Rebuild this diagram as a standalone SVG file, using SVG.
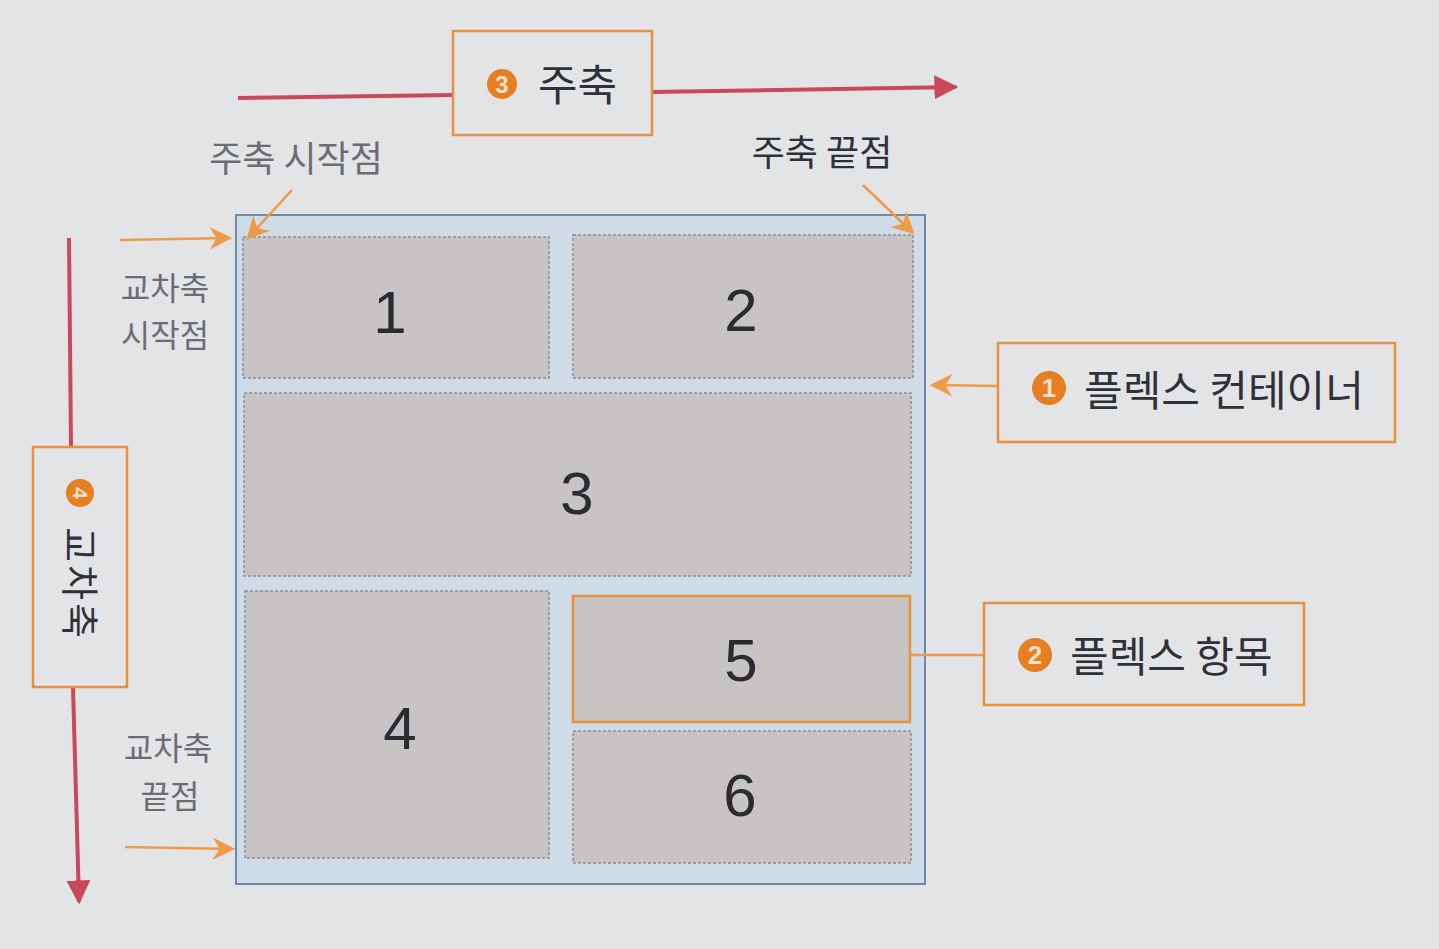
<svg xmlns="http://www.w3.org/2000/svg" width="1439" height="949" viewBox="0 0 1439 949">
<style>
.bg{fill:#e3e4e6}
.item{fill:#c8c4c3;stroke:#8a8f99;stroke-width:1.5;stroke-dasharray:3 2}
.num{font-family:"Liberation Sans",Arial,sans-serif;font-size:60px;fill:#2a2c33;text-anchor:middle}
.lbl{font-family:"Noto Sans CJK KR","Noto Sans",sans-serif;fill:#2f3138}
.gray{fill:#6b6d73}
.obox{fill:none;stroke:#e8913a;stroke-width:2.5}
.badge{fill:#e67e22}
.btxt{font-family:"Liberation Sans",Arial,sans-serif;font-weight:bold;fill:#f6e2c8;text-anchor:middle}
.axis{stroke:#c9485c;stroke-width:4;fill:none}
.oline{stroke:#ef9a48;stroke-width:2.5;fill:none}
</style>
<defs>
<marker id="ra" viewBox="0 0 10 10" refX="9" refY="5" markerWidth="6" markerHeight="6" markerUnits="strokeWidth" orient="auto"><path d="M0,0 L10,5 L0,10 z" fill="#c9485c"/></marker>
<marker id="oa" viewBox="0 0 10 10" refX="9" refY="5" markerWidth="10" markerHeight="9" markerUnits="strokeWidth" orient="auto"><path d="M0,0 L10,5 L0,10 L3,5 z" fill="#ef9a48"/></marker>
</defs>
<rect class="bg" x="0" y="0" width="1439" height="949"/>

<g id="container">
<rect x="236" y="215" width="689" height="669" fill="#cfdbe6" stroke="#6f8aa8" stroke-width="2"/>
</g>
<g id="item1"><rect class="item" x="243" y="237" width="306" height="141"/><text class="num" x="390" y="333">1</text></g>
<g id="item2"><rect class="item" x="573" y="235" width="340" height="143"/><text class="num" x="741" y="331">2</text></g>
<g id="item3"><rect class="item" x="244" y="393" width="667" height="183"/><text class="num" x="577" y="514">3</text></g>
<g id="item4"><rect class="item" x="245" y="591" width="304" height="267"/><text class="num" x="400" y="749">4</text></g>
<g id="item5"><rect x="573" y="596" width="337" height="126" fill="#c8c4c3" stroke="#e8913a" stroke-width="2.5"/><text class="num" x="741" y="681">5</text></g>
<g id="item6"><rect class="item" x="573" y="731" width="338" height="132"/><text class="num" x="740" y="816">6</text></g>

<g id="connectors">
<line class="axis" x1="238" y1="98" x2="453" y2="95"/>
<line class="axis" x1="652" y1="92" x2="956" y2="87" marker-end="url(#ra)"/>
<line class="axis" x1="69" y1="238" x2="71" y2="447"/>
<line class="axis" x1="73" y1="687" x2="79" y2="902" marker-end="url(#ra)"/>
<line class="oline" x1="292" y1="190" x2="248" y2="238" marker-end="url(#oa)"/>
<line class="oline" x1="120" y1="240" x2="230" y2="238" marker-end="url(#oa)"/>
<line class="oline" x1="863" y1="185" x2="913" y2="233" marker-end="url(#oa)"/>
<line class="oline" x1="125" y1="847" x2="233" y2="849" marker-end="url(#oa)"/>
<line class="oline" x1="998" y1="386" x2="932" y2="385" marker-end="url(#oa)"/>
<line class="oline" x1="910" y1="655" x2="985" y2="655"/>
</g>

<g id="main-axis-label">
<rect class="obox" x="453" y="31" width="199" height="104"/>
<circle class="badge" cx="502" cy="84" r="15"/>
<text class="btxt" x="502" y="93" font-size="24">3</text>
<text class="lbl" x="538" y="101" font-size="43">주축</text>
</g>

<g id="cross-axis-label">
<rect class="obox" x="33" y="447" width="94" height="240"/>
<g transform="translate(80,493) rotate(90)">
<circle class="badge" cx="0" cy="0" r="14"/>
<text class="btxt" x="0" y="7" font-size="21">4</text>
</g>
<text class="lbl" font-size="38" letter-spacing="3" transform="translate(66,527) rotate(90)">교차축</text>
</g>

<g id="container-label">
<rect class="obox" x="998" y="343" width="397" height="99"/>
<circle class="badge" cx="1049" cy="388" r="17"/>
<text class="btxt" x="1049" y="397" font-size="26">1</text>
<text class="lbl" x="1084" y="406" font-size="42">플렉스 컨테이너</text>
</g>

<g id="item-label">
<rect class="obox" x="984" y="603" width="320" height="102"/>
<circle class="badge" cx="1035" cy="655" r="17"/>
<text class="btxt" x="1035" y="664" font-size="26">2</text>
<text class="lbl" x="1070" y="672" font-size="42">플렉스 항목</text>
</g>

<g id="texts">
<text class="lbl gray" x="296" y="172" font-size="36" text-anchor="middle">주축 시작점</text>
<text class="lbl" x="822" y="166" font-size="36" text-anchor="middle" fill="#45474d">주축 끝점</text>
<text class="lbl gray" x="165" y="300" font-size="32" text-anchor="middle">교차축</text>
<text class="lbl gray" x="165" y="347" font-size="32" text-anchor="middle">시작점</text>
<text class="lbl gray" x="168" y="760" font-size="32" text-anchor="middle">교차축</text>
<text class="lbl gray" x="170" y="808" font-size="32" text-anchor="middle">끝점</text>
</g>
</svg>
